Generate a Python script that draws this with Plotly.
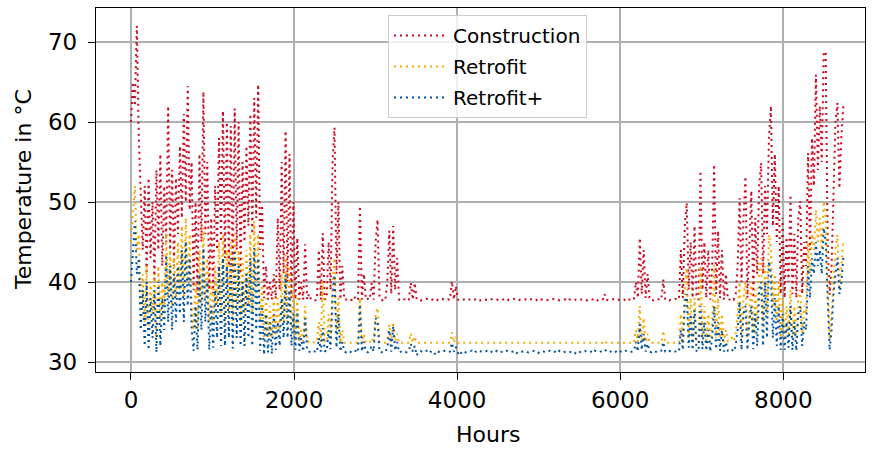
import plotly.graph_objects as go

# ---- Data: one sample per day, day index -> hour = 24*day ----
# Construction
con_q1 = [60, 65, 62, 72, 58, 50, 44, 52, 41, 53,
          43, 50, 40, 54, 44, 56, 42, 52, 45, 62,
          44, 54, 42, 53, 46, 57, 48, 61, 50, 64.5,
          49, 55, 39, 50, 38.4, 56, 45, 63.8, 46, 55,
          39, 48, 38.6, 52, 44, 58, 45, 61.4, 43, 60,
          42, 59.5, 41, 61.7, 44, 60, 41, 55, 45, 57,
          47, 61, 46, 63, 48, 64.7, 44, 49.6, 38, 42,
          37.8, 40, 37.8, 41, 37.9, 48, 39, 55, 41, 58.9,
          40, 56, 38, 50, 37.8, 45.5, 37.8, 40, 37.8, 44.7]
con_q2 = [37.8, 38.5, 37.8, 37.8, 37.7, 37.8, 44, 37.8, 46.1, 37.8,
          38, 45, 39, 55, 59.3, 41, 50, 37.8, 42, 37.8,
          37.8, 37.9, 37.7, 37.8, 38.2, 37.8, 37.7, 49.5, 37.8, 41,
          37.8, 37.9, 37.8, 39.9, 37.8, 45, 47.8, 38, 37.8, 37.6,
          37.8, 40, 46.4, 38.5, 47, 39, 43, 37.8, 37.7, 37.9,
          37.8, 37.6, 37.8, 39.9, 37.8, 39.9, 37.8, 37.8, 37.7, 37.8,
          37.8, 37.9, 37.8, 37.7, 37.8, 37.8, 37.6, 37.8, 37.8, 37.9,
          37.8, 37.7, 37.8, 37.8, 40.1, 37.8, 39.5, 37.8, 37.7, 37.8,
          37.8, 37.8, 37.9, 37.8, 37.7, 37.8, 37.8, 37.8, 37.6, 37.8,
          37.8]
con_q3 = [37.8, 37.7, 37.8, 37.8, 37.9, 37.8, 37.8, 37.7, 37.8, 37.8,
          37.8, 37.6, 37.8, 37.8, 37.8, 37.9, 37.8, 37.7, 37.8, 37.8,
          37.8, 37.8, 37.7, 37.8, 37.9, 37.8, 37.8, 37.6, 37.8, 37.8,
          37.8, 37.7, 37.8, 37.8, 37.8, 37.9, 37.8, 37.8, 37.7, 37.8,
          37.8, 37.8, 37.6, 37.8, 37.8, 37.9, 37.8, 37.7, 37.8, 37.8,
          37.8, 37.8, 37.7, 37.8, 37.9, 37.8, 37.8, 37.6, 37.8, 37.8,
          37.8, 38.5, 37.8, 37.7, 37.8, 37.8, 37.9, 37.8, 37.8, 37.7,
          37.8, 37.8, 37.6, 37.8, 37.8, 37.9, 37.8, 40, 38, 45.5,
          38.5, 44, 38, 41, 37.8, 37.8, 37.7, 37.8, 37.9, 37.8,
          37.8, 40.3]
con_q4 = [37.8, 37.8, 37.7, 37.8, 37.8, 37.9, 37.8, 37.8, 44, 38,
          47, 49.9, 39, 45, 38, 47, 38, 37.8, 53.9, 39,
          45, 38, 44, 37.8, 42, 54.7, 38.5, 46.4, 38, 44,
          37.8, 41, 37.8, 37.8, 38, 37.8, 38.5, 42, 50.5, 40,
          48, 53.2, 38, 45, 51.4, 38, 48, 41, 52, 54.9,
          41, 52, 46, 58, 62, 47, 56, 45, 52, 38.5,
          48, 38, 45.6, 40, 50.9, 38.5, 46, 38, 48, 50.1,
          38.5, 45, 42, 56.1, 44, 58, 52, 65.9, 54, 62,
          55, 68.8, 68.6, 45, 38.4, 42, 52, 60, 62.4, 51.7,
          58, 62]

# Retrofit
ret_q1 = [45, 48, 52, 44, 46, 37, 41, 35, 42, 34,
          40, 36, 41, 33, 42, 35, 40, 37, 46, 38,
          44, 37, 43, 38, 45, 39, 47, 38, 48, 40,
          46, 37, 34, 40, 34, 44, 37, 46.8, 38, 43,
          35, 40, 35, 42, 37, 45, 36, 46, 35, 44,
          36, 45, 35, 46, 37, 44, 35, 43, 36, 44,
          37, 46, 36, 47.6, 38, 46, 35, 40, 33, 38,
          33, 37, 33, 38, 33.5, 38, 34, 41, 35, 43.4,
          35, 42, 34, 39, 32.8, 38, 32.6, 34, 32.6, 37]
ret_q2 = [32.6, 32.5, 32.6, 32.5, 32.4, 32.6, 35, 32.5, 40, 32.6,
          32.5, 36, 33, 40, 43, 33.5, 38, 32.4, 34, 32.4,
          32.4, 32.4, 32.4, 32.4, 32.4, 32.4, 32.4, 38, 32.4, 33.5,
          32.4, 32.4, 32.4, 33, 32.4, 36, 36.75, 32.5, 32.4, 32.4,
          32.4, 33, 34.7, 32.5, 35, 32.6, 33.5, 32.4, 32.4, 32.4,
          32.4, 32.4, 32.4, 33.6, 32.4, 33.2, 32.4, 32.4, 32.4, 32.4,
          32.4, 32.4, 32.4, 32.4, 32.4, 32.4, 32.4, 32.4, 32.4, 32.4,
          32.4, 32.4, 32.4, 32.4, 33.7, 32.4, 33.2, 32.4, 32.4, 32.4,
          32.4, 32.4, 32.4, 32.4, 32.4, 32.4, 32.4, 32.4, 32.4, 32.4,
          32.4]
ret_q3 = [32.4, 32.4, 32.4, 32.4, 32.4, 32.4, 32.4, 32.4, 32.4, 32.4,
          32.4, 32.4, 32.4, 32.4, 32.4, 32.4, 32.4, 32.4, 32.4, 32.4,
          32.4, 32.4, 32.4, 32.4, 32.4, 32.4, 32.4, 32.4, 32.4, 32.4,
          32.4, 32.4, 32.4, 32.4, 32.4, 32.4, 32.4, 32.4, 32.4, 32.4,
          32.4, 32.4, 32.4, 32.4, 32.4, 32.4, 32.4, 32.4, 32.4, 32.4,
          32.4, 32.4, 32.4, 32.4, 32.4, 32.4, 32.4, 32.4, 32.4, 32.4,
          32.4, 32.7, 32.4, 32.4, 32.4, 32.4, 32.4, 32.4, 32.4, 32.4,
          32.4, 32.4, 32.4, 32.4, 32.4, 32.4, 32.4, 34, 32.5, 37,
          32.6, 35.5, 32.5, 33.5, 32.4, 32.4, 32.4, 32.4, 32.4, 32.4,
          32.4, 33.9]
ret_q4 = [32.4, 32.4, 32.4, 32.4, 32.4, 32.4, 32.4, 32.4, 36, 32.6,
          38.9, 41.75, 33, 38, 32.6, 38, 32.5, 32.4, 42, 33,
          37, 32.6, 36, 32.5, 35, 42.1, 33, 38, 32.6, 36,
          32.5, 34, 32.6, 32.6, 33, 32.6, 33.5, 36, 40, 33,
          38, 40, 33, 37, 40, 33.5, 39, 35, 42, 43,
          35, 42, 36, 45.9, 44, 37, 41, 35, 40, 33,
          38, 33, 37, 33.5, 39, 33, 37, 33, 38, 39,
          33.5, 37, 36, 45, 41, 46, 44, 49, 45, 48,
          44, 50.1, 48, 41, 32.8, 36, 40, 44, 45.9, 39,
          42, 45]

# Retrofit+
rp_q1 = [40, 44, 47.6, 41, 43, 34, 39, 32, 40, 31.5,
         38, 33, 39, 31.2, 40, 32, 38, 34, 43.4, 35,
         42, 34, 41, 35, 42, 36, 44, 35, 45.1, 37,
         43, 34, 31.4, 37, 31.5, 41, 34, 44.25, 35, 40,
         31.5, 37, 31.8, 39, 33, 42, 32, 43, 32, 42,
         33, 43, 31.7, 44, 33, 42, 32, 40, 32, 41,
         33, 43, 32, 44.25, 34, 43, 31.4, 37, 30.9, 36,
         31.2, 35, 31, 36, 31.5, 35, 32, 38, 33, 40.9,
         33, 39, 32, 36, 31.5, 36.3, 31.4, 33, 31.3, 35.5]
rp_q2 = [31.4, 31.3, 31.2, 31.4, 31.3, 31.2, 33, 31.3, 34.25, 31.4,
         31.3, 34, 31.6, 38, 40.9, 31.8, 36, 31.3, 32.5, 31.3,
         31.2, 31.4, 31.3, 31.1, 31.3, 31.4, 31.2, 37.2, 31.3, 32.5,
         31.3, 31.2, 31.4, 32, 31.3, 35.5, 35, 31.3, 31.2, 31.4,
         31.3, 31.8, 34, 31.3, 34.5, 31.4, 32.5, 31.2, 31.3, 31.4,
         31.3, 31.2, 31.4, 32.3, 31.3, 32, 30.8, 31.3, 31.4, 31.2,
         31.3, 31.4, 31.1, 31.3, 31.2, 30.9, 31.4, 31.3, 31.2, 31.3,
         31.4, 31.3, 31.2, 31.3, 32.4, 31.3, 31.9, 31.2, 30.8, 31.3,
         31.4, 31.2, 31.3, 31.3, 31.4, 31.1, 31.3, 31.2, 31.4, 31.3,
         31.2]
rp_q3 = [31.3, 31.4, 31.2, 31.3, 31.1, 31.3, 31.4, 31.2, 31.3, 31.3,
         31.2, 31.4, 31.3, 31.2, 31.3, 31.4, 31.1, 31.3, 31.2, 31.3,
         31.4, 31.3, 31.2, 31.3, 31.3, 31.4, 31.2, 31.1, 31.3, 31.4,
         31.3, 31.2, 31.3, 31.4, 31.2, 31.3, 31.3, 31.1, 31.4, 31.3,
         31.2, 31.3, 31.4, 31.3, 31.2, 31.3, 31.1, 31.4, 31.3, 31.2,
         31.3, 31.4, 31.2, 31.3, 31.3, 31.1, 31.4, 31.3, 31.2, 31.3,
         31.4, 31.6, 31.3, 31.2, 31.3, 31.4, 31.2, 31.3, 31.1, 31.3,
         31.3, 31.2, 31.4, 31.3, 31.2, 31.3, 31.4, 32.5, 31.3, 34.7,
         31.5, 33.5, 31.3, 32.3, 31.3, 31.2, 31.4, 31.3, 31.2, 31.3,
         31.4, 32.5]
rp_q4 = [31.3, 31.2, 31.4, 31.3, 31.2, 31.3, 31.4, 31.3, 34, 31.5,
         37.5, 38.5, 31.8, 36, 31.5, 36.5, 31.4, 31.3, 37, 31.6,
         35, 31.4, 34, 31.3, 33, 37, 31.6, 35, 31.4, 34,
         31.3, 32.5, 31.4, 31.4, 31.6, 31.3, 32, 34, 37.5, 31.5,
         36, 37, 31.5, 35, 37, 31.6, 36, 32, 39, 40,
         32, 40, 33, 42.6, 41, 33, 38, 32, 37, 31.5,
         36, 31.5, 35, 31.8, 37, 31.5, 35, 31.4, 36, 37,
         32, 35, 34, 42, 38, 43, 41, 45, 42, 44,
         41, 46.75, 45, 38, 31.5, 34, 38.5, 41, 43, 38.5,
         40, 43]

construction = con_q1 + con_q2 + con_q3 + con_q4
retrofit = ret_q1 + ret_q2 + ret_q3 + ret_q4
retrofit_plus = rp_q1 + rp_q2 + rp_q3 + rp_q4
hours = [24 * i for i in range(len(construction))]

series_names = ["Construction", "Retrofit", "Retrofit+"]
series_values = [construction, retrofit, retrofit_plus]
series_colors = ["#CC071E", "#F6A800", "#00549F"]

x_ticks = [0, 2000, 4000, 6000, 8000]
y_ticks = [30, 40, 50, 60, 70]

FONT = "DejaVu Sans"

fig = go.Figure()
for name, vals, col in zip(series_names, series_values, series_colors):
    fig.add_trace(go.Scatter(
        x=hours, y=vals, name=name, mode="lines", legendgroup=name,
        line=dict(color=col, width=2, dash="2px,4px"),
    ))

axis_common = dict(
    showline=True, linecolor="black", linewidth=1.4, mirror=True,
    ticks="outside", ticklen=7, tickwidth=1.4, tickcolor="black",
    showgrid=True, gridcolor="#b0b0b0", gridwidth=1.6,
    zeroline=False, automargin=False,
    tickfont=dict(family=FONT, size=23, color="black"),
)

fig.update_layout(
    width=874, height=450,
    margin=dict(l=96, r=9, t=8, b=78),
    plot_bgcolor="white", paper_bgcolor="white",
    font=dict(family=FONT, color="black"),
    xaxis=dict(range=[-429, 9002], tickvals=x_ticks, ticklabelstandoff=0, **axis_common),
    yaxis=dict(range=[28.75, 74.25], tickvals=y_ticks, ticklabelstandoff=6, **axis_common),
    legend=dict(x=0.3797, y=0.9808, xanchor="left", yanchor="top",
                bgcolor="rgba(255,255,255,0.8)", bordercolor="#cccccc", borderwidth=1,
                traceorder="grouped", tracegroupgap=2, itemwidth=54,
                font=dict(family=FONT, size=20, color="black")),
    showlegend=True,
    annotations=[
        dict(text="Hours", xref="paper", yref="paper", x=0.5098, y=-0.173,
             xanchor="center", yanchor="middle", showarrow=False,
             font=dict(family=FONT, size=22, color="black")),
        dict(text="Temperature in °C", xref="paper", yref="paper", x=-0.0949, y=0.5,
             xanchor="center", yanchor="middle", textangle=-90, showarrow=False,
             font=dict(family=FONT, size=22, color="black")),
    ],
)

fig.write_html("out.html", config={"displayModeBar": False},
               post_script="document.body.style.margin='0';")
